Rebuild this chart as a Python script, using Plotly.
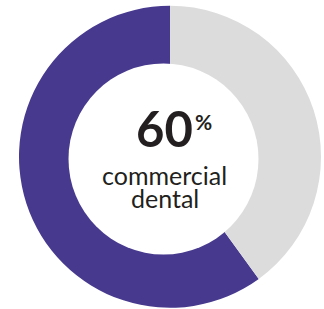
import plotly.graph_objects as go

labels = ["commercial dental", "other"]
values = [60, 40]
colors = ["#46398E", "#DCDCDC"]
center_value = "60"
center_unit = "%"
center_label = ["commercial", "dental"]

W, H = 324, 309
def px(x): return x / W
def py(y): return 1 - y / H

fig = go.Figure(go.Pie(
    labels=labels, values=values, hole=0, sort=False,
    direction="clockwise", rotation=144,
    marker=dict(colors=colors, line=dict(width=0)),
    textinfo="none", hoverinfo="label+percent", showlegend=False,
    domain=dict(x=[px(19), px(321)], y=[py(308), py(5.5)]),
))

# white centre of the ring (slightly off-centre as in the reference)
fig.add_shape(type="circle", xref="paper", yref="paper",
              x0=px(68.5), x1=px(258.5), y0=py(254.5), y1=py(63.5),
              fillcolor="white", line=dict(width=0), layer="above")

txt = "#231F20"
fig.add_annotation(x=px(164), y=py(128), xref="paper", yref="paper",
                   text=f"<b>{center_value}</b>", showarrow=False,
                   font=dict(family="Lato", size=49, color=txt))
fig.add_annotation(x=px(203), y=py(121), xref="paper", yref="paper",
                   text=f"<b>{center_unit}</b>", showarrow=False,
                   font=dict(family="Lato", size=21, color=txt))
fig.add_annotation(x=px(164), y=py(175), xref="paper", yref="paper",
                   text=center_label[0], showarrow=False,
                   font=dict(family="Lato", size=25, color=txt))
fig.add_annotation(x=px(165), y=py(198), xref="paper", yref="paper",
                   text=center_label[1], showarrow=False,
                   font=dict(family="Lato", size=25, color=txt))

fig.update_layout(width=W, height=H, margin=dict(l=0, r=0, t=0, b=0),
                  paper_bgcolor="white", plot_bgcolor="white")
fig.write_html("out.html", config={"displayModeBar": False},
               post_script="document.body.style.margin='0';")
